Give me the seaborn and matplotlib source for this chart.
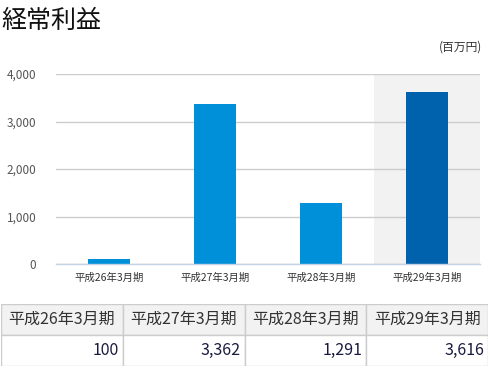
import numpy as np
import matplotlib
matplotlib.use("Agg")
import matplotlib.pyplot as plt
import pandas as pd
import seaborn as sns
from matplotlib.patches import Rectangle

# Data
periods = ['平成26年3月期', '平成27年3月期', '平成28年3月期', '平成29年3月期']
profit = [100, 3362, 1291, 3616]
bar_colors = ['#0090da', '#0090da', '#0090da', '#0062ad']
yticks = [0, 1000, 2000, 3000, 4000]

sns.set_theme(style='white')
plt.rcParams['font.family'] = ['Noto Sans CJK JP', 'DejaVu Sans']

df = pd.DataFrame({'period': periods, 'profit': profit})

fig = plt.figure(figsize=(4.9, 3.77), dpi=100)
ax = fig.add_axes([0.114, 0.2997, 0.866, 0.504])

# highlighted latest period
ax.axvspan(len(periods) - 1.5, len(periods) - 0.5, color='#f2f2f2', zorder=0, lw=0)

sns.barplot(data=df, x='period', y='profit', hue='period', order=periods,
            palette=dict(zip(periods, bar_colors)), width=0.4, legend=False,
            saturation=1, linewidth=0, ax=ax, zorder=3)

ax.set_ylim(0, 4000)
ax.set_xlim(-0.5, len(periods) - 0.5)
ax.set_yticks(yticks)
ax.set_yticklabels(['{:,}'.format(v) for v in yticks])
ax.yaxis.grid(True, color='#cccccc', lw=1, zorder=0)
ax.set_axisbelow(True)
ax.set_xlabel('')
ax.set_ylabel('')
for s in ['top', 'right', 'left']:
    ax.spines[s].set_visible(False)
ax.spines['bottom'].set_color('#c5d3e3')
ax.spines['bottom'].set_linewidth(1)
ax.spines['bottom'].set_zorder(4)

ax.tick_params(axis='y', length=0, labelsize=8.5, labelcolor='#555555', pad=14)
ax.tick_params(axis='x', which='major', length=0, labelsize=7.5, labelcolor='#333333', pad=6)
ax.set_xticks(np.arange(-0.5, len(periods)), minor=True)
ax.tick_params(axis='x', which='minor', length=6, color='#c5d3e3', width=1)

fig.text(0.002, 0.945, '経常利益', fontsize=18, color='#111111', va='center', ha='left')
fig.text(0.984, 0.875, '(百万円)', fontsize=8.5, color='#333333', va='center', ha='right')

# data table under the chart
tab = fig.add_axes([0.002, 0.029, 0.994, 0.165])
tab.set_xlim(0, len(periods))
tab.set_ylim(0, 2)
tab.axis('off')
for i, (p, v) in enumerate(zip(periods, profit)):
    tab.add_patch(Rectangle((i, 1), 1, 1, facecolor='#f2f2f2', edgecolor='#cccccc', lw=1))
    tab.add_patch(Rectangle((i, 0), 1, 1, facecolor='white', edgecolor='#cccccc', lw=1))
    tab.text(i + 0.5, 1.5, p, ha='center', va='center', fontsize=11.5, color='#333333')
    tab.text(i + 0.97, 0.5, '{:,}'.format(v), ha='right', va='center', fontsize=11.5,
             color='#1a1a40')

fig.savefig('out.png', dpi=100)
